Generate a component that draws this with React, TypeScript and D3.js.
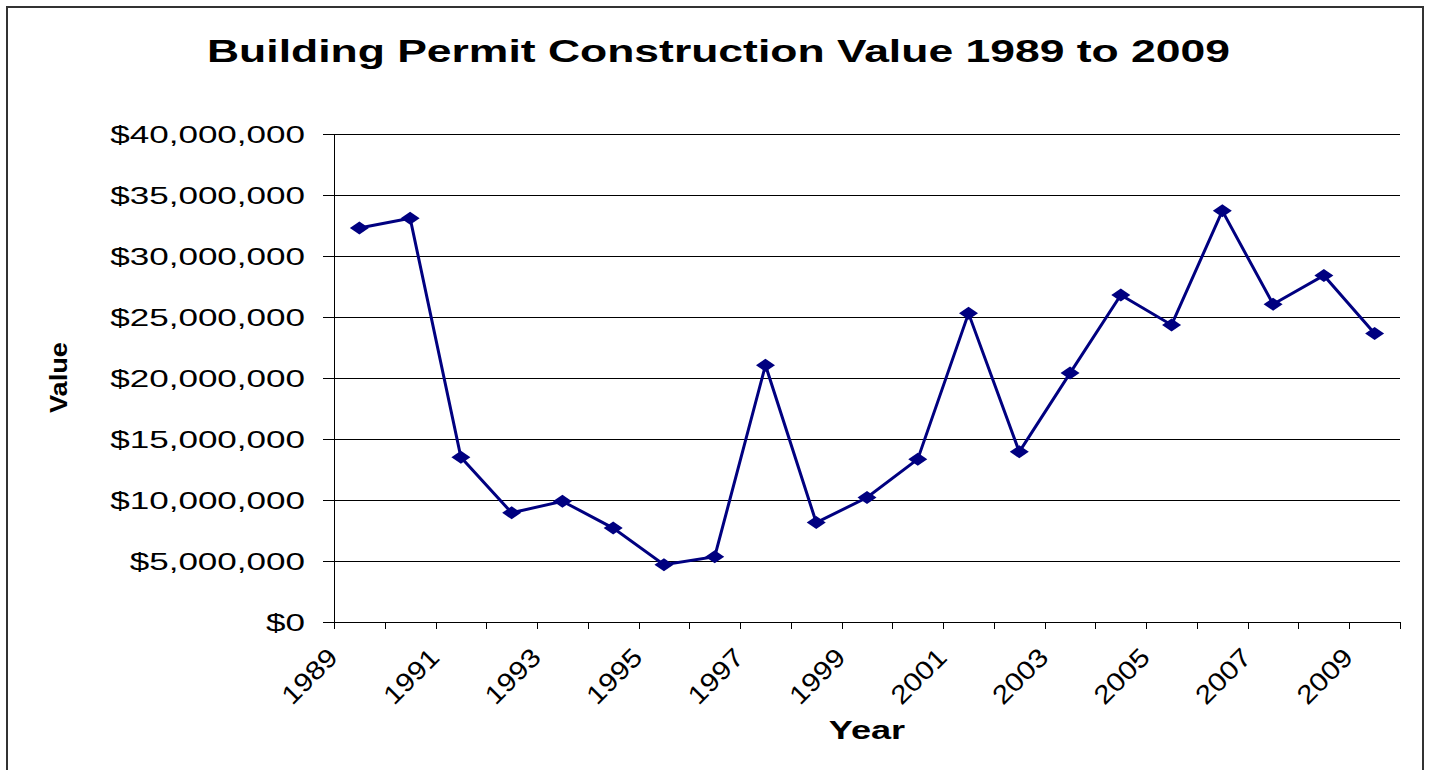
import React from "react";
import * as d3 from "d3";

const years: string[] = [
  "1989", "1990", "1991", "1992", "1993", "1994", "1995", "1996", "1997", "1998",
  "1999", "2000", "2001", "2002", "2003", "2004", "2005", "2006", "2007", "2008", "2009",
];
// values in millions of dollars
const valuesM: number[] = [
  32.3, 33.1, 13.5, 8.95, 9.9, 7.7, 4.7, 5.35, 21.05, 8.15,
  10.2, 13.35, 25.3, 13.95, 20.4, 26.8, 24.35, 33.7, 26.05, 28.4, 23.65,
];
const yTicks: number[] = [0, 5e6, 10e6, 15e6, 20e6, 25e6, 30e6, 35e6, 40e6];
const xLabelYears: string[] = [
  "1989", "1991", "1993", "1995", "1997", "1999", "2001", "2003", "2005", "2007", "2009",
];
const title = "Building Permit Construction Value 1989 to 2009";
const xTitle = "Year";
const yTitle = "Value";

const W = 1429;
const H = 770;
const left = 334;
const right = 1400;
const top = 134;
const bottom = 622;
const SX = 1.46; // horizontal text stretch
const FONT = "'Liberation Sans', Arial, sans-serif";
const LINE = "#000080";

export default function App() {
  const x = d3.scaleBand<string>().domain(years).range([left, right]).padding(0);
  const y = d3.scaleLinear().domain([0, 40e6]).range([bottom, top]);
  const fmt = d3.format("$,");
  const cx = (yr: string) => (x(yr) as number) + x.bandwidth() / 2;

  const pts: [number, number][] = years.map((yr, i) => [cx(yr), y(valuesM[i] * 1e6)]);
  const line = d3.line<[number, number]>().x((d) => d[0]).y((d) => d[1]);
  const boundaries = d3.range(years.length + 1).map((i) => left + i * x.bandwidth());

  return (
    <svg
      width={W}
      height={H}
      style={{ position: "absolute", left: 0, top: 0, background: "#fff" }}
      fontFamily={FONT}
    >
      <rect x={0} y={0} width={W} height={H} fill="#fff" />
      <rect x={7} y={7} width={1416} height={820} fill="none" stroke="#333" strokeWidth={2} />

      <text
        transform={`translate(718.5,62) scale(1.39,1)`}
        textAnchor="middle"
        fontSize={32}
        fontWeight="bold"
        fill="#000"
      >
        {title}
      </text>

      {/* gridlines */}
      {yTicks.map((t) => (
        <line
          key={"g" + t}
          x1={left - 11}
          x2={right}
          y1={Math.round(y(t)) + 0.5}
          y2={Math.round(y(t)) + 0.5}
          stroke="#000"
          strokeWidth={1}
        />
      ))}
      {/* y axis */}
      <line x1={left + 0.5} x2={left + 0.5} y1={top} y2={bottom + 7} stroke="#000" strokeWidth={1} />
      {/* x ticks */}
      {boundaries.map((b, i) => (
        <line
          key={"xt" + i}
          x1={Math.round(b) + 0.5}
          x2={Math.round(b) + 0.5}
          y1={bottom}
          y2={bottom + 7}
          stroke="#000"
          strokeWidth={1}
        />
      ))}

      {/* y tick labels */}
      {yTicks.map((t) => (
        <text
          key={"yl" + t}
          transform={`translate(305,${y(t) + 8.6}) scale(${SX},1)`}
          textAnchor="end"
          fontSize={24}
          fill="#000"
        >
          {fmt(t)}
        </text>
      ))}

      {/* x tick labels */}
      {xLabelYears.map((yr) => (
        <text
          key={"xl" + yr}
          transform={`translate(${cx(yr) - 20},659) rotate(-45) scale(1.15,1)`}
          textAnchor="end"
          fontSize={26}
          fill="#000"
        >
          {yr}
        </text>
      ))}

      <text
        transform={`translate(867,739) scale(1.39,1)`}
        textAnchor="middle"
        fontSize={26}
        fontWeight="bold"
        fill="#000"
      >
        {xTitle}
      </text>
      <text
        transform={`translate(67,377.5) rotate(-90)`}
        textAnchor="middle"
        fontSize={23}
        fontWeight="bold"
        fill="#000"
        textLength={71}
        lengthAdjust="spacingAndGlyphs"
      >
        {yTitle}
      </text>

      <path d={line(pts) || ""} fill="none" stroke={LINE} strokeWidth={3} />
      {pts.map((p, i) => (
        <path
          key={"m" + i}
          d={`M${p[0] - 9.5},${p[1]} L${p[0]},${p[1] - 6.5} L${p[0] + 9.5},${p[1]} L${p[0]},${p[1] + 6.5} Z`}
          fill={LINE}
        />
      ))}
    </svg>
  );
}
